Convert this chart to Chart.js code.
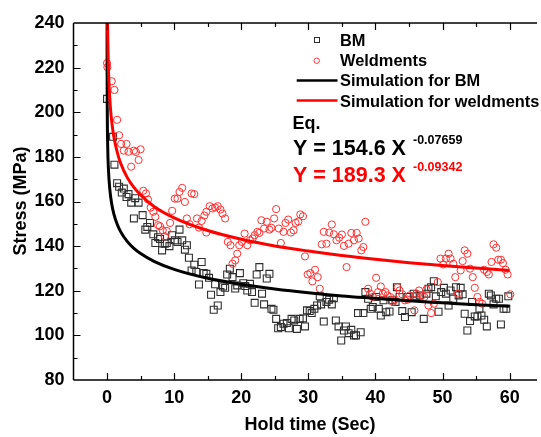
<!DOCTYPE html>
<html>
<head>
<meta charset="utf-8">
<script src="https://cdn.jsdelivr.net/npm/chart.js@4/dist/chart.umd.min.js"></script>
<style>
html,body{margin:0;padding:0;background:#fff;overflow:hidden;}
canvas{display:block;}
</style>
</head>
<body>
<canvas id="c" width="541" height="437"></canvas>
<script>
// ---- Data ----
const bmX = [0,0.9,1.1,1.5,1.8,2.2,2.5,2.9,3.2,3.6,4.2,4.7,4.0,5.3,5.7,6.0,6.4,6.9,7.2,7.6,7.9,8.2,8.6,8.9,9.3,9.7,10.1,10.5,10.8,11.2,11.6,11.9,12.2,12.6,13.0,13.3,13.7,14.1,14.4,14.8,15.2,15.5,15.9,16.1,16.5,16.9,17.3,17.6,17.9,18.3,18.7,19.1,19.4,19.8,20.3,20.6,20.9,21.3,21.6,22.0,22.3,22.7,23.1,23.4,23.8,24.2,24.5,24.8,25.2,25.5,25.9,26.3,26.8,27.1,27.5,27.9,28.3,28.7,29.2,29.5,29.8,30.2,30.5,30.9,31.3,31.7,31.9,32.3,32.7,33.1,33.5,33.8,34.1,34.5,34.9,35.3,35.6,36.0,36.4,36.8,37.1,37.4,37.8,38.2,38.5,38.9,39.3,39.6,40.1,40.5,40.8,41.2,41.6,42.1,42.5,43.0,43.2,43.6,44.0,44.4,44.8,45.4,45.7,46.1,46.6,47.2,47.6,47.9,48.3,48.7,49.0,49.4,49.8,50.2,50.5,50.9,51.2,51.6,52.0,52.4,52.7,53.0,53.3,53.7,54.1,54.4,54.8,55.2,55.5,55.8,56.2,56.6,56.9,57.2,57.6,58.0,58.4,58.7,59.1,59.5,59.8];
const bmY = [206,189,176.5,168.2,166.6,164,165.8,162,163.3,159.5,161.5,159.5,152.4,153.9,147.4,148.6,150.4,145.3,141.4,144,143.2,138.1,141.1,141.4,140,144.9,142.6,141.9,147.4,142.6,138.4,140.4,134.8,129.1,131.7,128.4,122.8,132.9,127.9,127.6,125.8,118.2,111.5,122.9,113.4,119.4,121.9,121.3,127.3,129.9,126.1,121,122.4,127.9,123.4,122.1,120.1,123.1,119.4,114.6,127.3,130.6,118.7,113.9,125.5,127.6,111.9,111.5,107.4,103.2,103.7,105.2,105.5,103.2,107.4,106.7,102.9,107.4,107.6,104,111.2,110.9,110,111.9,113.4,117.5,113.9,106.2,115,116,113.9,116.7,106.7,104,97.7,102.2,104,101,102.5,100,100,110,101.4,110,119.4,116.4,111.9,112.7,117.2,111.9,108.9,115.7,110.4,110.7,115.7,115,121.6,117.2,110.9,108.2,117.2,110.4,118.7,117.5,117.9,107.4,118.7,120.9,121.6,124.3,117.5,110.6,119.4,121.3,118.7,113.4,120.1,116.4,121.6,117.9,121.3,118.4,109.7,102.2,106.4,115,108.5,108.5,111.9,108.9,107,104,118.7,117.9,113.9,116.4,116.4,104.9,111.9,111.9,117.5];

const wdX = [0,0.05,0.7,1.1,1.5,1.8,2.1,2.5,2.9,3.2,3.6,4.0,4.3,4.7,5.0,5.4,5.8,6.1,6.5,6.9,7.2,7.6,7.9,8.3,8.6,8.9,9.4,9.7,10.1,10.5,10.8,11.2,11.6,11.9,12.3,12.6,13.0,13.4,13.7,14.1,14.5,14.8,14.8,15.3,15.7,16.1,16.5,16.9,17.2,17.6,18.0,18.4,18.7,19.1,19.4,19.7,20.1,20.5,20.9,21.3,21.7,22.0,22.4,22.7,23.0,23.4,23.8,24.2,24.5,24.9,25.2,25.6,25.9,26.3,26.6,27.0,27.4,27.8,28.1,28.5,28.8,29.2,29.5,29.9,30.3,30.6,31.0,31.4,31.7,32.0,32.3,32.7,33.1,33.5,33.8,34.2,34.6,35.0,35.3,35.7,36.0,36.4,36.8,37.2,37.5,37.9,38.2,38.5,38.9,39.2,39.6,40.1,40.4,40.8,41.1,41.5,41.8,42.2,42.6,42.9,43.3,43.6,44.0,44.4,44.8,45.1,45.8,46.1,46.5,46.9,47.3,47.6,47.9,48.3,48.7,49.3,49.7,50.1,50.5,50.9,51.2,51.6,51.9,52.3,52.7,53.0,53.3,53.7,54.1,54.5,54.8,55.2,55.5,55.9,56.2,56.6,56.9,57.3,57.6,58.0,58.3,58.7,59.0,59.4,59.7,60.1];
const wdY = [222,220.2,213.9,210,196.6,189.7,185.8,182.8,185.8,182.3,175.6,182.8,182.2,178.6,183.4,164.8,163.6,160.9,157.3,155.4,153.1,149.4,148.9,147.1,144.4,146.8,150.4,155.8,161.3,161.3,164.3,166.1,159.8,152.4,149.8,163.6,163.3,152.4,148.3,151.3,153.7,155.4,146.1,157.9,156.9,157.3,157.9,156.4,154.6,152.4,141.9,140.4,132.1,133.6,136.6,140.4,141.9,145.6,140.4,142.6,143.4,144.9,146.4,145.9,151.6,147.9,150.9,147.4,148.2,152.4,156.6,147.9,141.4,146.4,150.4,151.9,146.1,147.1,150.4,151,154.2,153.4,135.4,127.3,127.9,124.2,129.4,126.1,120.9,140.8,146.4,141.1,146.1,149.7,145.3,142.6,143.8,145.2,140.1,130.6,141.1,145.9,142.6,145.9,143.4,138.1,139.6,150.9,120.9,118.7,117.2,125.8,119.4,121.9,118.7,119.4,117.9,117.2,115,116.1,121.6,120.1,118.4,115.7,116,117.9,111.2,118.7,120.1,117.9,117.2,120.6,113.4,110,114.2,123.9,134.4,131.8,134.4,136.6,134.4,132.1,126.1,118.7,129.1,133.3,138.1,136.6,129.9,126.1,121.3,117.2,115,114.2,129.4,128.4,127.3,132.9,140.8,139.3,133.9,133.9,132.4,129.4,127.3,118.4];

// Simulation curves, values
const simBmX = [0.003,0.01,0.03,0.1,0.2,0.4,0.7,1,1.5,2,3,4,5,7,10,15,20,25,30,35,40,45,50,55,60];
const simBmY = [241.2,220.0,202.2,184.4,174.9,165.8,158.9,154.6,149.9,146.6,142.1,139.0,136.7,133.2,129.6,125.6,122.9,120.8,119.1,117.7,116.6,115.5,114.6,113.7,113.0];
const simWdX = [0.05,0.08,0.1,0.15,0.2,0.3,0.5,0.7,1,1.5,2,3,4,5,7,10,15,20,25,30,35,40,45,50,55,60];
const simWdY = [250.4,239.7,234.7,226.0,220.0,211.8,202.0,195.7,189.3,182.3,177.4,170.8,166.3,162.9,157.8,152.7,147.0,143.1,140.1,137.8,135.8,134.1,132.6,131.3,130.2,129.1];

const xTickLabels = [0,10,20,30,40,50,60];
const yTickLabels = [80,100,120,140,160,180,200,220,240];

const legendLabels = ['BM','Weldments','Simulation for BM','Simulation for weldments'];
const eqTitle = 'Eq.';
const eqBm = ['Y = 154.6 X', '-0.07659'];
const eqWd = ['Y = 189.3 X', '-0.09342'];
const xTitle = 'Hold time (Sec)';
const yTitle = 'Stress (MPa)';

const FONT = '"Liberation Sans", Arial, Helvetica, sans-serif';
const BLACK_LINE = '#000000';
const RED = '#ff0000';
const SQ = '#2e2e2e';
const CIRC = '#ff3030';

const toPts = (xs, ys) => xs.map((x, i) => ({x: x, y: ys[i]}));

const decor = {
  id: 'decor',
  afterDraw(chart) {
    const ctx = chart.ctx;
    const a = chart.chartArea;
    const xs = chart.scales.x, ys = chart.scales.y;
    ctx.save();
    ctx.strokeStyle = '#000';
    ctx.lineWidth = 1.5;
    ctx.beginPath();
    ctx.moveTo(a.left, a.top); ctx.lineTo(a.left, a.bottom);
    ctx.moveTo(a.left, a.bottom); ctx.lineTo(a.right + 2, a.bottom);
    ctx.moveTo(a.left, a.top); ctx.lineTo(a.right + 2, a.top);
    ctx.stroke();
    ctx.lineWidth = 1.2;
    ctx.beginPath();
    for (let v = 0; v <= 65; v += 5) {
      const px = Math.round(xs.getPixelForValue(v)) + 0.5;
      if (px > a.right + 1) continue;
      const len = (v % 10 === 0) ? 7 : 4;
      ctx.moveTo(px, a.bottom); ctx.lineTo(px, a.bottom - len);
      ctx.moveTo(px, a.top); ctx.lineTo(px, a.top + len);
    }
    for (let v = 90; v <= 230; v += 10) {
      const py = Math.round(ys.getPixelForValue(v)) + 0.5;
      const len = ((v - 80) % 20 === 0) ? 7 : 4;
      ctx.moveTo(a.left, py); ctx.lineTo(a.left + len, py);
    }
    ctx.stroke();

    ctx.fillStyle = '#000';
    ctx.font = 'bold 18px ' + FONT;
    ctx.textAlign = 'center';
    ctx.textBaseline = 'middle';
    ctx.fillText(xTitle, 310, 425);
    ctx.save();
    ctx.translate(21, 201);
    ctx.rotate(-Math.PI / 2);
    ctx.fillText(yTitle, 0, 0);
    ctx.restore();

    ctx.textAlign = 'left';
    ctx.textBaseline = 'alphabetic';
    ctx.font = 'bold 16.4px ' + FONT;
    ctx.lineWidth = 1;
    ctx.strokeStyle = SQ;
    ctx.strokeRect(314.5, 37.5, 5, 5);
    ctx.strokeStyle = CIRC;
    ctx.beginPath(); ctx.arc(316.7, 60.7, 2.7, 0, Math.PI * 2); ctx.stroke();
    ctx.lineWidth = 2.7;
    ctx.strokeStyle = BLACK_LINE;
    ctx.beginPath(); ctx.moveTo(296.7, 80.5); ctx.lineTo(337.5, 80.5); ctx.stroke();
    ctx.strokeStyle = RED;
    ctx.beginPath(); ctx.moveTo(296.7, 100.5); ctx.lineTo(337.5, 100.5); ctx.stroke();
    ctx.fillStyle = '#000';
    ctx.fillText(legendLabels[0], 340, 45.7);
    ctx.fillText(legendLabels[1], 340, 65.7);
    ctx.fillText(legendLabels[2], 340, 86);
    ctx.fillText(legendLabels[3], 340, 106.7);

    ctx.font = 'bold 18px ' + FONT;
    ctx.fillText(eqTitle, 292.5, 129.3);
    ctx.font = 'bold 21.5px ' + FONT;
    ctx.fillText(eqBm[0], 293, 155);
    ctx.font = 'bold 12.5px ' + FONT;
    ctx.fillText(eqBm[1], 413, 144);
    ctx.fillStyle = RED;
    ctx.font = 'bold 21.5px ' + FONT;
    ctx.fillText(eqWd[0], 293, 181.7);
    ctx.font = 'bold 12.5px ' + FONT;
    ctx.fillText(eqWd[1], 413, 171);
    ctx.restore();
  }
};

new Chart(document.getElementById('c'), {
  type: 'scatter',
  data: {
    datasets: [
      {
        label: legendLabels[2], data: toPts(simBmX, simBmY), showLine: true,
        borderColor: BLACK_LINE, borderWidth: 3, pointRadius: 0, fill: false,
        cubicInterpolationMode: 'monotone', order: 1, clip: 0
      },
      {
        label: legendLabels[3], data: toPts(simWdX, simWdY), showLine: true,
        borderColor: RED, borderWidth: 3, pointRadius: 0, fill: false,
        cubicInterpolationMode: 'monotone', order: 0, clip: 0
      },
      {
        label: legendLabels[0], data: toPts(bmX, bmY),
        pointStyle: 'rect', pointRadius: 4.9, borderColor: SQ, borderWidth: 1.1,
        backgroundColor: 'rgba(0,0,0,0)', order: 3
      },
      {
        label: legendLabels[1], data: toPts(wdX, wdY),
        pointStyle: 'circle', pointRadius: 3.6, borderColor: CIRC, borderWidth: 1,
        backgroundColor: 'rgba(0,0,0,0)', order: 2
      }
    ]
  },
  options: {
    responsive: false,
    animation: false,
    events: [],
    layout: {padding: {top: 23, right: 0, left: 0, bottom: 0}},
    plugins: {legend: {display: false}, tooltip: {enabled: false}, title: {display: false}},
    scales: {
      x: {
        type: 'linear', min: -5, max: 63.78,
        grid: {display: false, drawTicks: false},
        border: {display: false},
        afterBuildTicks: s => { s.ticks = xTickLabels.map(v => ({value: v})); },
        afterFit: s => { s.height = 57; },
        ticks: {color: '#000', font: {family: FONT, size: 18, weight: 'bold'}, padding: 7, maxRotation: 0, autoSkip: false}
      },
      y: {
        type: 'linear', min: 80, max: 240,
        grid: {display: false, drawTicks: false},
        border: {display: false},
        afterBuildTicks: s => { s.ticks = yTickLabels.map(v => ({value: v})); },
        afterFit: s => { s.width = 73.5; },
        ticks: {color: '#000', font: {family: FONT, size: 18, weight: 'bold'}, padding: 9, autoSkip: false}
      }
    }
  },
  plugins: [decor]
});
</script>
</body>
</html>
